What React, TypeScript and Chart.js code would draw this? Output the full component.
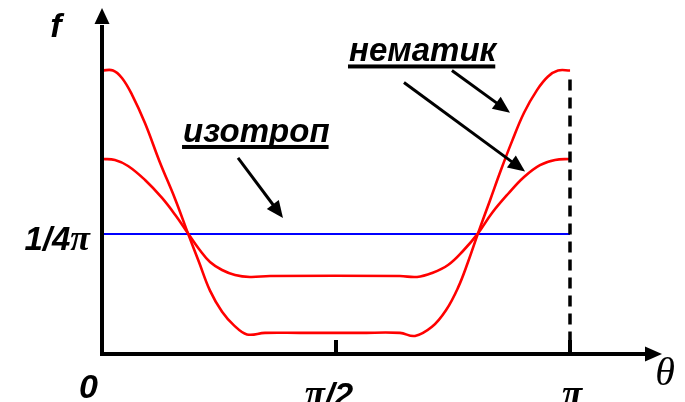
import { useEffect, useRef } from 'react';
import { Chart, registerables } from 'chart.js';

Chart.register(...registerables);

const PI = Math.PI;
const ISO = 1 / (4 * PI);

// Orientational distribution f(θ): strongly ordered nematic
const sharpTheta = [0, 0.074, 0.134, 0.201, 0.289, 0.389, 0.490, 0.577, 0.651, 0.725, 0.806, 0.886, 0.973, 1.094, 1.329, 1.732, 2.000, 2.101, 2.215, 2.309, 2.390, 2.457, 2.524, 2.605, 2.678, 2.752, 2.833, 2.920, 2.994, 3.061, 3.142];
const sharpF = [0.188, 0.188, 0.183, 0.172, 0.153, 0.127, 0.103, 0.080, 0.061, 0.042, 0.028, 0.019, 0.013, 0.014, 0.014, 0.014, 0.014, 0.012, 0.018, 0.029, 0.044, 0.061, 0.080, 0.102, 0.122, 0.141, 0.160, 0.175, 0.184, 0.188, 0.188];

// Weakly ordered nematic
const broadTheta = [0, 0.087, 0.175, 0.289, 0.403, 0.497, 0.577, 0.651, 0.725, 0.806, 0.893, 0.993, 1.128, 2.000, 2.115, 2.215, 2.323, 2.423, 2.524, 2.618, 2.725, 2.833, 2.940, 3.041, 3.142];
const broadF = [0.1293, 0.1287, 0.1247, 0.1154, 0.1035, 0.0915, 0.080, 0.0696, 0.0610, 0.0557, 0.0524, 0.0511, 0.0517, 0.0517, 0.0511, 0.0537, 0.0590, 0.0683, 0.080, 0.0935, 0.1061, 0.1174, 0.1253, 0.1287, 0.1293];

// Isotropic phase: constant 1/4π
const isoTheta = [0, PI];
const isoF = [ISO, ISO];

const xTickValues = [0, PI / 2, PI];
const xTickLabels = ['0', 'π/2', 'π'];
const yTickValues = [ISO];
const yTickLabels = ['1/4π'];
const xTitle = 'θ';
const yTitle = 'f';

const isoLabel = 'изотроп';
const nemLabel = 'нематик';

// Annotation anchors in data coordinates (θ, f)
const isoLabelAt = [0.544, 0.1406];
const nemLabelAt = [1.658, 0.194];
const isoArrow = [[0.913, 0.130], [1.215, 0.0902]];
const nemArrows = [
  [[2.349, 0.188], [2.739, 0.160]],
  [[2.027, 0.180], [2.840, 0.121]],
];
const guideTop = 0.182;

const X_MAX = (PI * 548) / 468;
const Y_MAX = (ISO * 331) / 120;

const SANS = '"Liberation Sans", Arial, sans-serif';
const SERIF = '"Liberation Serif", "Times New Roman", serif';

const toPoints = (xs: number[], ys: number[]) => xs.map((x, i) => ({ x, y: ys[i] }));

// Splits text into runs: π in a serif italic, everything else in bold italic sans
function mixedRuns(ctx: CanvasRenderingContext2D, text: string, size: number) {
  const runs: { t: string; font: string; w: number }[] = [];
  for (const ch of text) {
    const font = ch === 'π' ? `italic bold ${Math.round(size * 1.1)}px ${SERIF}` : `italic bold ${size}px ${SANS}`;
    ctx.font = font;
    const w = ctx.measureText(ch).width;
    const last = runs[runs.length - 1];
    if (last && last.font === font) {
      last.t += ch;
      last.w += w;
    } else runs.push({ t: ch, font, w });
  }
  return runs;
}

function drawMixed(ctx: CanvasRenderingContext2D, text: string, x: number, y: number, size: number, align: 'left' | 'center' | 'right') {
  const runs = mixedRuns(ctx, text, size);
  const total = runs.reduce((s, r) => s + r.w, 0);
  let cx = align === 'left' ? x : align === 'center' ? x - total / 2 : x - total;
  ctx.textAlign = 'left';
  ctx.textBaseline = 'alphabetic';
  for (const r of runs) {
    ctx.font = r.font;
    ctx.fillText(r.t, cx, y);
    cx += r.w;
  }
}

function arrow(ctx: CanvasRenderingContext2D, x1: number, y1: number, x2: number, y2: number) {
  const ang = Math.atan2(y2 - y1, x2 - x1);
  const head = 17;
  const half = 7.5;
  const bx = x2 - head * Math.cos(ang);
  const by = y2 - head * Math.sin(ang);
  ctx.lineWidth = 3;
  ctx.beginPath();
  ctx.moveTo(x1, y1);
  ctx.lineTo(bx + 2 * Math.cos(ang), by + 2 * Math.sin(ang));
  ctx.stroke();
  ctx.beginPath();
  ctx.moveTo(x2, y2);
  ctx.lineTo(bx - half * Math.sin(ang), by + half * Math.cos(ang));
  ctx.lineTo(bx + half * Math.sin(ang), by - half * Math.cos(ang));
  ctx.closePath();
  ctx.fill();
}

const decorations = {
  id: 'decorations',
  afterDraw(chart: any) {
    const ctx: CanvasRenderingContext2D = chart.ctx;
    const xs = chart.scales.x;
    const ys = chart.scales.y;
    const px = (v: number) => xs.getPixelForValue(v);
    const py = (v: number) => ys.getPixelForValue(v);
    const ax = px(0);
    const ay = py(0);
    const { right, top } = chart.chartArea;

    ctx.save();
    ctx.strokeStyle = '#000';
    ctx.fillStyle = '#000';

    // dashed guide at θ = π
    ctx.lineWidth = 3.5;
    ctx.setLineDash([11, 7]);
    ctx.beginPath();
    ctx.moveTo(px(PI), py(guideTop));
    ctx.lineTo(px(PI), ay);
    ctx.stroke();
    ctx.setLineDash([]);

    // axes
    ctx.lineWidth = 4;
    ctx.beginPath();
    ctx.moveTo(ax, ay + 2);
    ctx.lineTo(ax, top + 2);
    ctx.moveTo(ax - 2, ay);
    ctx.lineTo(right - 2, ay);
    ctx.stroke();

    // arrowheads
    ctx.beginPath();
    ctx.moveTo(ax, top - 15);
    ctx.lineTo(ax - 7.5, top + 1);
    ctx.lineTo(ax + 7.5, top + 1);
    ctx.closePath();
    ctx.fill();
    ctx.beginPath();
    ctx.moveTo(right + 12, ay);
    ctx.lineTo(right - 5, ay - 7.5);
    ctx.lineTo(right - 5, ay + 7.5);
    ctx.closePath();
    ctx.fill();

    // x ticks (inward) and labels
    xTickValues.forEach((v, i) => {
      const x = px(v);
      if (v !== 0) {
        ctx.lineWidth = 4;
        ctx.beginPath();
        ctx.moveTo(x, ay - 14);
        ctx.lineTo(x, ay);
        ctx.stroke();
        const nudge = v < PI ? -7 : 2;
        drawMixed(ctx, xTickLabels[i], x + nudge, ay + 52, 34, 'center');
      } else {
        drawMixed(ctx, xTickLabels[i], x - 4, ay + 44, 34, 'right');
      }
    });

    // y tick labels
    yTickValues.forEach((v, i) => {
      drawMixed(ctx, yTickLabels[i], ax - 12, py(v) + 16, 33, 'right');
    });

    // axis titles
    ctx.font = `italic bold 34px ${SANS}`;
    ctx.textAlign = 'center';
    ctx.textBaseline = 'alphabetic';
    ctx.fillText(yTitle, ax - 46, top + 14);
    ctx.font = `italic 40px ${SERIF}`;
    ctx.fillText(xTitle, right + 15, ay + 31);

    // phase labels with underline
    const label = (t: string, at: number[]) => {
      ctx.font = `italic bold 33px ${SANS}`;
      ctx.textAlign = 'left';
      const x = px(at[0]);
      const y = py(at[1]);
      ctx.fillText(t, x, y);
      const w = ctx.measureText(t).width;
      ctx.fillRect(x - 1, y + 3, w, 4);
    };
    label(isoLabel, isoLabelAt);
    label(nemLabel, nemLabelAt);

    // pointer arrows
    arrow(ctx, px(isoArrow[0][0]), py(isoArrow[0][1]), px(isoArrow[1][0]), py(isoArrow[1][1]));
    nemArrows.forEach(([a, b]) => arrow(ctx, px(a[0]), py(a[1]), px(b[0]), py(b[1])));

    ctx.restore();
  },
};

export default function App() {
  const ref = useRef<HTMLCanvasElement | null>(null);

  useEffect(() => {
    if (!ref.current) return;
    const line = (data: { x: number; y: number }[], color: string, width: number) => ({
      data,
      borderColor: color,
      borderWidth: width,
      pointRadius: 0,
      fill: false,
      tension: 0.4,
    });
    const chart = new Chart(ref.current, {
      type: 'line',
      data: {
        datasets: [
          line(toPoints(sharpTheta, sharpF), '#ff0000', 2.6),
          line(toPoints(broadTheta, broadF), '#ff0000', 2.6),
          line(toPoints(isoTheta, isoF), '#0000ff', 2),
        ],
      },
      options: {
        animation: false,
        responsive: false,
        devicePixelRatio: 1,
        layout: { padding: { left: 102, right: 35, top: 23, bottom: 48 } },
        plugins: { legend: { display: false }, tooltip: { enabled: false } },
        scales: {
          x: { type: 'linear', display: false, min: 0, max: X_MAX },
          y: { type: 'linear', display: false, min: 0, max: Y_MAX },
        },
      },
      plugins: [decorations],
    });
    return () => chart.destroy();
  }, []);

  return (
    <div style={{ position: 'fixed', left: 0, top: 0, width: 685, height: 402, background: '#fff' }}>
      <canvas ref={ref} width={685} height={402} style={{ display: 'block' }} />
    </div>
  );
}
